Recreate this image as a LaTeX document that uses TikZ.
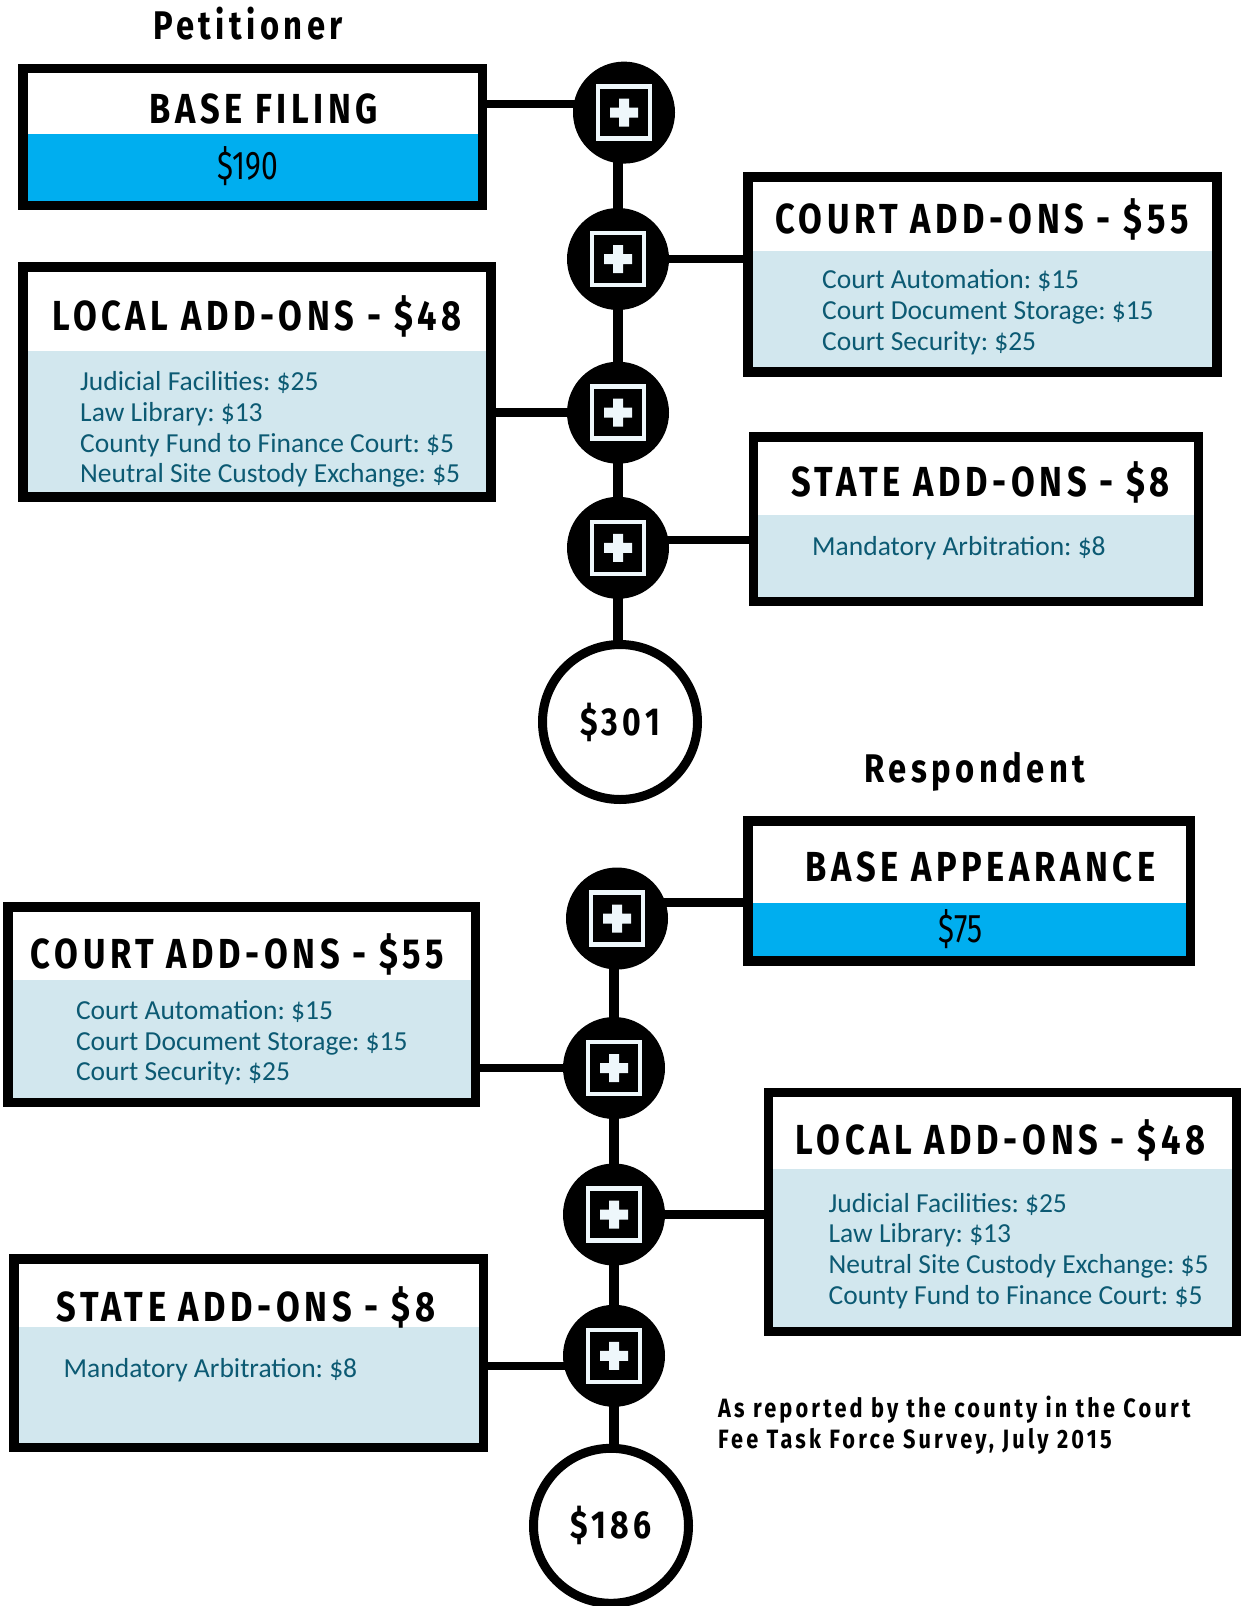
\documentclass[tikz,border=0pt]{standalone}
\usepackage{fontspec}
\usepackage{xcolor}
\usetikzlibrary{backgrounds}

\newfontfamily\headfont[FakeStretch=0.82, LetterSpace=11]{Fira Sans}
\newfontfamily\notefont[FakeStretch=0.82, LetterSpace=12]{Fira Sans}
\newfontfamily\pricefont[FakeStretch=0.75]{Fira Sans}
\newfontfamily\itemfont{Carlito}

\definecolor{feecyan}{RGB}{0,174,239}
\definecolor{feeband}{RGB}{210,231,238}
\definecolor{feetext}{RGB}{12,90,115}
\definecolor{iconwhite}{RGB}{238,247,251}

\begin{document}
\frenchspacing
\begin{tikzpicture}[x=1pt, y=-1pt]
    % Styles
    \tikzstyle{feebox} = [rectangle, draw, fill=white, line width=9.5pt, inner sep=0pt]
    \tikzset{band/.style 2 args={path picture={\fill[#2] (path picture bounding box.south west) rectangle ([yshift=#1]path picture bounding box.south east);}}}
    \tikzstyle{addnode} = [circle, fill=black, minimum size=102pt, inner sep=0pt,
        path picture={\begin{scope}[shift={(path picture bounding box.center)}]
            \draw[iconwhite, line width=4.5pt] (-26,-26) rectangle (26,26);
            \fill[iconwhite] (-14,-5) rectangle (14,5) (-5,-14) rectangle (5,14);
        \end{scope}}]
    \tikzstyle{total} = [circle, draw, line width=9pt, fill=white, minimum size=155pt, inner sep=0pt, font=\headfont\bfseries\fontsize{39}{40}\selectfont]
    \tikzstyle{head} = [inner sep=0pt, font=\headfont\bfseries\fontsize{42}{44}\selectfont]
    \tikzstyle{side} = [inner sep=0pt, font=\headfont\bfseries\fontsize{40}{42}\selectfont]
    \tikzstyle{price} = [inner sep=0pt, font=\pricefont\fontsize{40}{42}\selectfont]
    \tikzstyle{items} = [inner sep=0pt, align=left, text=feetext, execute at begin node=\strut, font=\itemfont\fontsize{27.5}{30.7}\selectfont]
    \tikzstyle{note} = [inner sep=0pt, align=left, execute at begin node=\strut, font=\notefont\bfseries\fontsize{26.5}{31}\selectfont]
    \tikzstyle{link} = [line width=8.5pt]
    \tikzstyle{spine} = [line width=10pt]

    \useasboundingbox (0,0) rectangle (1241,1606);

    % Petitioner column
    \node[side, anchor=base] (petitioner) at (248,39) {Petitioner};
    \node[addnode] (p_add1) at (624,112.6) {};
    \node[addnode] (p_add2) at (618,259) {};
    \node[addnode] (p_add3) at (618,412.7) {};
    \node[addnode] (p_add4) at (618,547.8) {};
    \node[total] (p_total) at (620,722) {\$301};

    \node[feebox, band={71pt}{feecyan}, minimum width=459.5pt, minimum height=137pt] (p_base) at (252.9,136.8) {};
    \node[head, anchor=base] (p_base_t) at (263.7,123) {BASE FILING};
    \node[price, anchor=base] (p_base_v) at (248,179) {\$190};

    \node[feebox, band={121pt}{feeband}, minimum width=468.7pt, minimum height=195.3pt] (p_court) at (982.5,274.4) {};
    \node[head, anchor=base west] (p_court_t) at (775,233) {COURT ADD-ONS - \$55};
    \node[items, anchor=north west] (p_court_i) at (822,269.5) {Court Automation: \$15\\Court Document Storage: \$15\\Court Security: \$25};

    \node[feebox, band={146pt}{feeband}, minimum width=467.7pt, minimum height=230.3pt] (p_local) at (257,381.9) {};
    \node[head, anchor=base west] (p_local_t) at (52,330) {LOCAL ADD-ONS - \$48};
    \node[items, anchor=north west] (p_local_i) at (80,371.5) {Judicial Facilities: \$25\\Law Library: \$13\\County Fund to Finance Court: \$5\\Neutral Site Custody Exchange: \$5};

    \node[feebox, band={86pt}{feeband}, minimum width=445.2pt, minimum height=164.7pt] (p_state) at (975.9,519.1) {};
    \node[head, anchor=base west] (p_state_t) at (791,496) {STATE ADD-ONS - \$8};
    \node[items, anchor=north west] (p_state_i) at (812,534) {Mandatory Arbitration: \$8};

    % Respondent column
    \node[side, anchor=base] (respondent) at (975,782) {Respondent};
    \node[addnode] (r_add1) at (617,918.5) {};
    \node[addnode] (r_add2) at (614,1068) {};
    \node[addnode] (r_add3) at (614,1214.5) {};
    \node[addnode] (r_add4) at (614,1355.8) {};
    \node[total] (r_total) at (611,1525.8) {\$186};

    \node[feebox, band={58pt}{feecyan}, minimum width=442.1pt, minimum height=140.1pt] (r_base) at (969.2,890.8) {};
    \node[head, anchor=base] (r_base_t) at (980.5,881) {BASE APPEARANCE};
    \node[price, anchor=base] (r_base_v) at (960.5,942) {\$75};

    \node[feebox, band={122pt}{feeband}, minimum width=467.7pt, minimum height=195.5pt] (r_court) at (241.7,1004.5) {};
    \node[head, anchor=base west] (r_court_t) at (30.7,968) {COURT ADD-ONS - \$55};
    \node[items, anchor=north west] (r_court_i) at (75.8,1000.2) {Court Automation: \$15\\Court Document Storage: \$15\\Court Security: \$25};

    \node[feebox, band={163pt}{feeband}, minimum width=467.6pt, minimum height=239.3pt] (r_local) at (1002.5,1211.9) {};
    \node[head, anchor=base west] (r_local_t) at (795.7,1154) {LOCAL ADD-ONS - \$48};
    \node[items, anchor=north west] (r_local_i) at (828.4,1192.7) {Judicial Facilities: \$25\\Law Library: \$13\\Neutral Site Custody Exchange: \$5\\County Fund to Finance Court: \$5};

    \node[feebox, band={120pt}{feeband}, minimum width=469.7pt, minimum height=188.1pt] (r_state) at (248.8,1353.2) {};
    \node[head, anchor=base west] (r_state_t) at (56.3,1321) {STATE ADD-ONS - \$8};
    \node[items, anchor=north west] (r_state_i) at (63.5,1355.5) {Mandatory Arbitration: \$8};

    % Source note
    \node[note, anchor=north west] (source) at (718,1395.3) {As reported by the county in the Court\\Fee Task Force Survey, July 2015};

    % Connections
    \begin{pgfonlayer}{background}
        \draw[spine] (p_add2 |- p_add1) -- (p_add2 |- p_total);
        \draw[link] ([yshift=33pt]p_base.east) -- ([yshift=33pt]p_base.east -| p_add1);
        \draw[link] (p_add2) -- (p_add2 -| p_court.west);
        \draw[link] (p_add3) -- (p_add3 -| p_local.east);
        \draw[link] ([yshift=8pt]p_add4.center) -- ([yshift=8pt]p_add4 -| p_state.west);

        \draw[spine] (r_add2 |- r_add1) -- (r_add2 |- r_total);
        \draw[link] ([yshift=16pt]r_add1.center) -- ([yshift=16pt]r_add1 -| r_base.west);
        \draw[link] (r_add2) -- (r_add2 -| r_court.east);
        \draw[link] (r_add3) -- (r_add3 -| r_local.west);
        \draw[link] ([yshift=-10pt]r_add4.center) -- ([yshift=-10pt]r_add4 -| r_state.east);
    \end{pgfonlayer}
\end{tikzpicture}
\end{document}
